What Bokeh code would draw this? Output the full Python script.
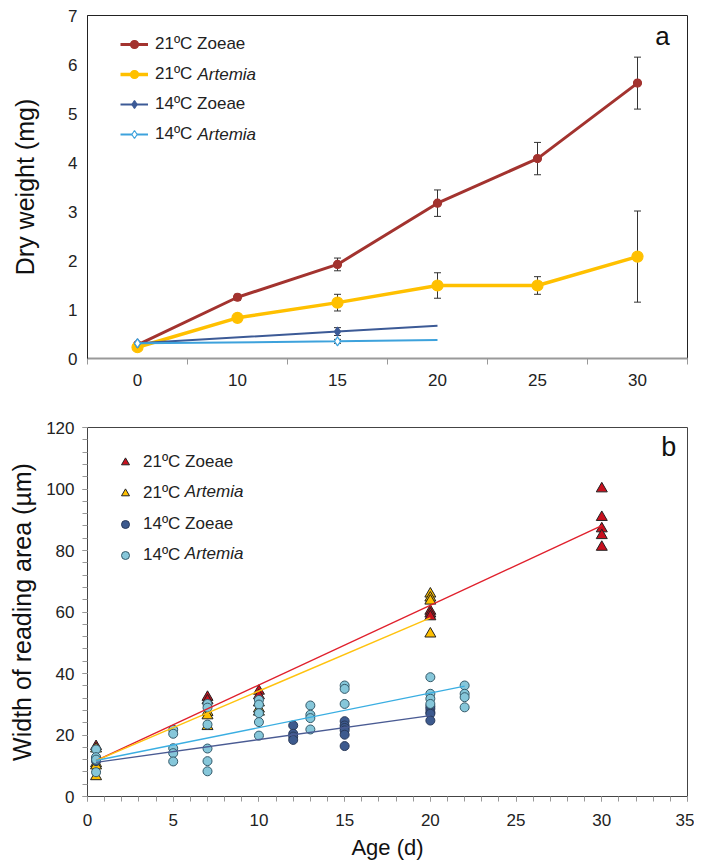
from bokeh.plotting import figure
from bokeh.layouts import column
from bokeh.models import (ColumnDataSource, Whisker, TeeHead, Legend, LegendItem, Label,
                          FixedTicker, CDSView, IndexFilter)
from bokeh.embed import file_html
from bokeh.resources import INLINE

FONT = "Liberation Sans"

# ---------------- Panel a data ----------------
age_cats = ["0", "10", "15", "20", "25", "30"]
z21_age = [0, 10, 15, 20, 25, 30]
z21_dw = [0.28, 1.25, 1.92, 3.17, 4.08, 5.62]
z21_err = [0.0, 0.06, 0.13, 0.27, 0.33, 0.53]
a21_age = [0, 10, 15, 20, 25, 30]
a21_dw = [0.23, 0.83, 1.14, 1.49, 1.49, 2.08]
a21_err = [0.0, 0.07, 0.17, 0.26, 0.18, 0.93]
z14_age = [0, 15, 20]
z14_dw = [0.31, 0.55, 0.67]
z14_err = [0.0, 0.08, 0.0]
a14_age = [0, 15, 20]
a14_dw = [0.31, 0.35, 0.38]
a14_err = [0.0, 0.04, 0.0]

# ---------------- Panel b data ----------------
z21_x = [0.5, 7, 7, 10, 10, 20, 20, 20, 30, 30, 30, 30, 30]
z21_y = [16.3, 32.3, 31.2, 34.3, 32.8, 60.3, 59.4, 58.5, 100.1, 90.8, 87.1, 84.9, 81.1]
a21_x = [0.5, 0.5, 0.5, 0.5, 7, 7, 7, 10, 10, 10, 20, 20, 20, 20]
a21_y = [15.5, 10.7, 10.0, 6.5, 27.4, 26.3, 22.8, 30.5, 28.5, 27.5, 65.9, 64.6, 63.6, 52.9]
z14_x = [0.5, 0.5, 12, 12, 12, 12, 15, 15, 15, 15, 15, 15, 20, 20, 20, 20, 20]
z14_y = [11.5, 12.5, 23.1, 20.4, 19.5, 18.4, 24.5, 23.1, 22.3, 21.5, 20.1, 16.4, 29.3, 28.5, 27.4, 26.9, 24.7]
a14_x = [0.5, 0.5, 0.5, 0.5, 5, 5, 5, 5, 5, 7, 7, 7, 7, 7, 7, 10, 10, 10, 10, 10,
         13, 13, 13, 13, 15, 15, 15, 20, 20, 20, 20, 22, 22, 22, 22]
a14_y = [15.3, 12.8, 12.0, 7.9, 21.7, 20.4, 15.7, 14.1, 11.4, 30.1, 28.9, 23.4, 15.6, 11.5, 8.2,
         31.4, 29.9, 27.1, 24.2, 19.8, 29.6, 26.6, 25.5, 21.8, 36.1, 35.0, 30.1,
         38.8, 33.4, 31.8, 30.1, 36.1, 33.4, 32.3, 29.0]
# trend lines (end points)
fit_z21_x = [0.5, 30]
fit_z21_y = [11.7, 88.1]
fit_a21_x = [0.5, 20]
fit_a21_y = [11.7, 58.1]
fit_z14_x = [0.5, 20]
fit_z14_y = [11.1, 26.3]
fit_a14_x = [0.5, 22]
fit_a14_y = [11.7, 35.9]

RED_A = "#A3332F"
YEL = "#FFC000"
DBLUE_A = "#3C5A96"
LBLUE_A = "#3DA2DC"


def idx(ages):
    return [age_cats.index(str(a)) for a in ages]


def style_axes(p):
    for ax in (p.xaxis, p.yaxis):
        ax.major_label_text_font = FONT
        ax.major_label_text_font_size = "17px"
        ax.major_label_text_color = "#222222"
        ax.axis_label_text_font = FONT
        ax.axis_label_text_font_style = "normal"
        ax.axis_label_text_color = "#111111"
    p.xgrid.grid_line_color = None
    p.ygrid.grid_line_color = None


# ================= Panel a =================
p1 = figure(width=694, height=391, x_range=(-0.5, 5.5), y_range=(0, 7),
            output_backend="svg", toolbar_location=None,
            min_border_left=87, min_border_right=7, min_border_top=15, min_border_bottom=33)
style_axes(p1)
p1.outline_line_color = "#222222"
p1.xaxis.ticker = FixedTicker(ticks=[0, 1, 2, 3, 4, 5],
                              minor_ticks=[-0.5, 0.5, 1.5, 2.5, 3.5, 4.5, 5.5])
p1.xaxis.major_label_overrides = {i: lab for i, lab in enumerate(age_cats)}
p1.xaxis.major_tick_out = 0
p1.xaxis.major_tick_in = 0
p1.xaxis.minor_tick_out = 6
p1.xaxis.minor_tick_in = 0
p1.xaxis.minor_tick_line_color = "#999999"
p1.xaxis.axis_line_color = "#999999"
p1.xaxis.axis_line_width = 2
p1.xaxis.major_label_standoff = 9
p1.yaxis.ticker = FixedTicker(ticks=list(range(8)))
p1.yaxis.major_tick_out = 0
p1.yaxis.major_tick_in = 0
p1.yaxis.minor_tick_line_color = None
p1.yaxis.axis_line_color = "#222222"
p1.yaxis.major_label_standoff = 10
p1.yaxis.axis_label = "Dry weight (mg)"
p1.yaxis.axis_label_text_font_size = "25px"
p1.yaxis.axis_label_standoff = 26

items_a = []
series_a = [
    ("21ºC Zoeae", z21_age, z21_dw, z21_err, RED_A, 3, "circle", 8, RED_A, 6),
    ("21ºC", a21_age, a21_dw, a21_err, YEL, 3.5, "circle", 11, YEL, 6),
    ("14ºC Zoeae", z14_age, z14_dw, z14_err, DBLUE_A, 2, "diamond", 9, DBLUE_A, 2),
    ("14ºC", a14_age, a14_dw, a14_err, LBLUE_A, 2, "diamond", 9, "white", 2),
]
for lab, ages, vals, errs, col, lw, mk, ms, fill, nmk in series_a:
    xs = idx(ages)
    src = ColumnDataSource(dict(x=xs, y=vals))
    lr = p1.line("x", "y", source=src, line_color=col, line_width=lw)
    sr = p1.scatter("x", "y", source=src, marker=mk, size=ms, line_color=col,
                    fill_color=fill, line_width=1.2,
                    view=CDSView(filter=IndexFilter(list(range(min(nmk, len(xs)))))))
    ex = [x for x, e in zip(xs, errs) if e > 0]
    eu = [v + e for v, e in zip(vals, errs) if e > 0]
    el = [v - e for v, e in zip(vals, errs) if e > 0]
    esrc = ColumnDataSource(dict(x=ex, upper=eu, lower=el))
    p1.add_layout(Whisker(source=esrc, base="x", upper="upper", lower="lower",
                          line_color="#333333", line_width=1,
                          upper_head=TeeHead(size=7, line_color="#333333", line_width=1),
                          lower_head=TeeHead(size=7, line_color="#333333", line_width=1)))
    items_a.append(LegendItem(label=lab, renderers=[lr, sr]))

leg_a = Legend(items=items_a, location=(33, 214), padding=0, margin=0, spacing=10,
               glyph_width=28, glyph_height=20, label_height=20, label_standoff=7,
               label_text_font=FONT, label_text_font_size="17px", label_text_color="#222222",
               border_line_color=None, background_fill_alpha=0)
p1.add_layout(leg_a)
for yy in (5.796, 4.572):
    p1.add_layout(Label(x=0.60, y=yy, text="Artemia", text_font=FONT, text_font_size="17px",
                        text_font_style="italic", text_baseline="middle", text_color="#222222"))
p1.add_layout(Label(x=5.25, y=6.59, text="a", text_font=FONT, text_font_size="26px",
                    text_align="center", text_baseline="middle", text_color="#111111"))

# ================= Panel b =================
p2 = figure(width=694, height=474, x_range=(0, 35), y_range=(0, 120),
            output_backend="svg", toolbar_location=None,
            min_border_left=85, min_border_right=5, min_border_top=36, min_border_bottom=69)
style_axes(p2)
p2.outline_line_color = "#444444"
p2.xaxis.ticker = FixedTicker(ticks=list(range(0, 36, 5)), minor_ticks=list(range(0, 36)))
p2.yaxis.ticker = FixedTicker(ticks=list(range(0, 121, 20)), minor_ticks=list(range(0, 121, 4)))
for ax in (p2.xaxis, p2.yaxis):
    ax.major_tick_out = 5
    ax.major_tick_in = 0
    ax.minor_tick_out = 5
    ax.minor_tick_in = 0
    ax.major_tick_line_color = "#999999"
    ax.minor_tick_line_color = "#999999"
    ax.axis_line_color = "#444444"
    ax.major_label_standoff = 8
p2.xaxis.major_label_standoff = 12
p2.xaxis.axis_label = "Age (d)"
p2.xaxis.axis_label_text_font_size = "22px"
p2.xaxis.axis_label_standoff = 6
p2.yaxis.axis_label = "Width of reading area (µm)"
p2.yaxis.axis_label_text_font_size = "25px"
p2.yaxis.axis_label_standoff = 7

s1 = p2.scatter(z21_x, z21_y, marker="triangle", size=11, fill_color="#C8101E",
                line_color="#222222", line_width=1)
s2 = p2.scatter(a21_x, a21_y, marker="triangle", size=11, fill_color="#FFC000",
                line_color="#222222", line_width=1)
s3 = p2.scatter(z14_x, z14_y, marker="circle", size=9, fill_color="#3D5A8E",
                line_color="#2A3A5A", line_width=1)
s4 = p2.scatter(a14_x, a14_y, marker="circle", size=9, fill_color="#86C7DA",
                line_color="#355A6A", line_width=1)
p2.line(fit_z21_x, fit_z21_y, line_color="#E0202C", line_width=1.4)
p2.line(fit_a21_x, fit_a21_y, line_color="#FFC20E", line_width=1.4)
p2.line(fit_a14_x, fit_a14_y, line_color="#3AAEE2", line_width=1.4)
p2.line(fit_z14_x, fit_z14_y, line_color="#4A5B93", line_width=1.4)

leg_b = Legend(items=[LegendItem(label="21ºC Zoeae", renderers=[s1]),
                      LegendItem(label="21ºC", renderers=[s2]),
                      LegendItem(label="14ºC Zoeae", renderers=[s3]),
                      LegendItem(label="14ºC", renderers=[s4])],
               location=(28, 231), padding=0, margin=0, spacing=11,
               glyph_width=20, glyph_height=20, label_height=20, label_standoff=8,
               label_text_font=FONT, label_text_font_size="17px", label_text_color="#222222",
               border_line_color=None, background_fill_alpha=0)
p2.add_layout(leg_b)
for yy in (99.25, 79.05):
    p2.add_layout(Label(x=5.68, y=yy, text="Artemia", text_font=FONT, text_font_size="17px",
                        text_font_style="italic", text_baseline="middle", text_color="#222222"))
p2.add_layout(Label(x=33.9, y=113.5, text="b", text_font=FONT, text_font_size="27px",
                    text_align="center", text_baseline="middle", text_color="#111111"))

layout = column(p1, p2)
open("out.html", "w").write(file_html(layout, INLINE))
